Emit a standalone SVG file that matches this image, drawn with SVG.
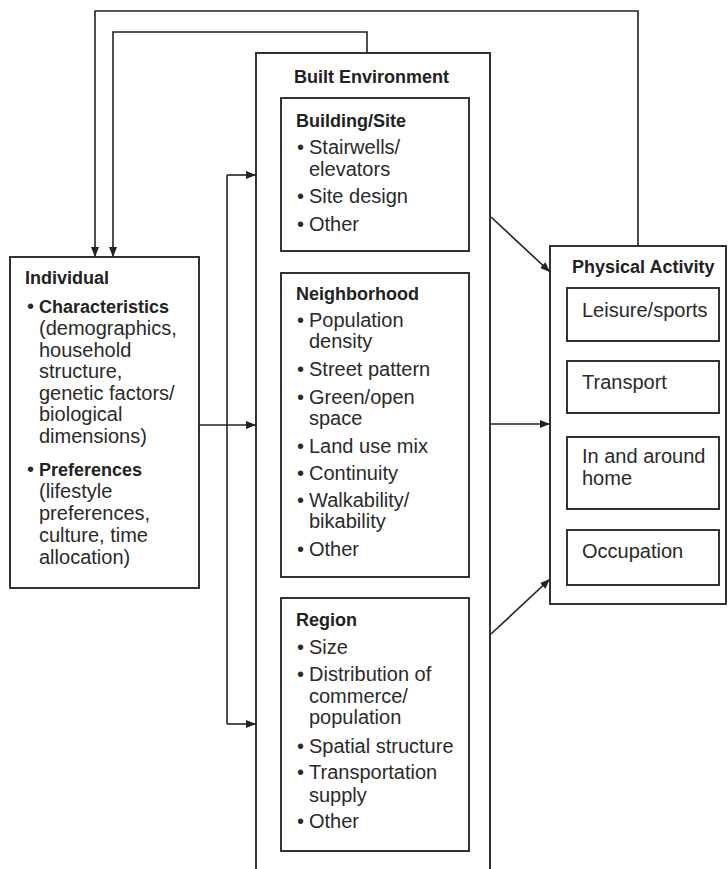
<svg xmlns="http://www.w3.org/2000/svg" width="728" height="869" viewBox="0 0 728 869">
<defs>
<style>
.box{fill:#fff;stroke:#333;stroke-width:2}
.conn{fill:none;stroke:#222;stroke-width:1.6}
.t{font-family:"Liberation Sans",Arial,sans-serif;font-size:20px;fill:#2a2a2a}
.b{font-weight:bold;font-size:18px;fill:#222}
</style>
<marker id="ah" markerUnits="userSpaceOnUse" markerWidth="10" markerHeight="8" refX="10" refY="4" orient="auto">
<path d="M0,0 L10,4 L0,8 z" fill="#222"/>
</marker>
</defs>
<rect width="728" height="869" fill="#fff"/>

<g id="built-environment">
<path class="box" d="M256,869 V53 H490 V869"/>
<text class="t b" x="294" y="83">Built Environment</text>
</g>

<g id="building-site">
<rect class="box" x="281" y="98" width="188" height="153"/>
<text class="t b" x="296" y="127">Building/Site</text>
<text class="t" x="297" y="154">•</text><text class="t" x="309" y="154">Stairwells/</text>
<text class="t" x="309" y="176">elevators</text>
<text class="t" x="297" y="203">•</text><text class="t" x="309" y="203">Site design</text>
<text class="t" x="297" y="231">•</text><text class="t" x="309" y="231">Other</text>
</g>

<g id="neighborhood">
<rect class="box" x="281" y="273" width="188" height="304"/>
<text class="t b" x="296" y="300">Neighborhood</text>
<text class="t" x="297" y="327">•</text><text class="t" x="309" y="327">Population</text>
<text class="t" x="309" y="348">density</text>
<text class="t" x="297" y="376">•</text><text class="t" x="309" y="376">Street pattern</text>
<text class="t" x="297" y="404">•</text><text class="t" x="309" y="404">Green/open</text>
<text class="t" x="309" y="425">space</text>
<text class="t" x="297" y="453">•</text><text class="t" x="309" y="453">Land use mix</text>
<text class="t" x="297" y="480">•</text><text class="t" x="309" y="480">Continuity</text>
<text class="t" x="297" y="507">•</text><text class="t" x="309" y="507">Walkability/</text>
<text class="t" x="309" y="528">bikability</text>
<text class="t" x="297" y="556">•</text><text class="t" x="309" y="556">Other</text>
</g>

<g id="region">
<rect class="box" x="281" y="598" width="188" height="253"/>
<text class="t b" x="296" y="626">Region</text>
<text class="t" x="297" y="654">•</text><text class="t" x="309" y="654">Size</text>
<text class="t" x="297" y="681">•</text><text class="t" x="309" y="681">Distribution of</text>
<text class="t" x="309" y="703">commerce/</text>
<text class="t" x="309" y="724">population</text>
<text class="t" x="297" y="753">•</text><text class="t" x="309" y="753">Spatial structure</text>
<text class="t" x="297" y="779">•</text><text class="t" x="309" y="779">Transportation</text>
<text class="t" x="309" y="802">supply</text>
<text class="t" x="297" y="828">•</text><text class="t" x="309" y="828">Other</text>
</g>

<g id="individual">
<rect class="box" x="10" y="257" width="189" height="331"/>
<text class="t b" x="25" y="284">Individual</text>
<text class="t" x="27" y="313">•</text><text class="t b" x="39" y="313">Characteristics</text>
<text class="t" x="39" y="335">(demographics,</text>
<text class="t" x="39" y="357">household</text>
<text class="t" x="39" y="378">structure,</text>
<text class="t" x="39" y="400">genetic factors/</text>
<text class="t" x="39" y="421">biological</text>
<text class="t" x="39" y="443">dimensions)</text>
<text class="t" x="27" y="476">•</text><text class="t b" x="39" y="476">Preferences</text>
<text class="t" x="39" y="498">(lifestyle</text>
<text class="t" x="39" y="520">preferences,</text>
<text class="t" x="39" y="542">culture, time</text>
<text class="t" x="39" y="564">allocation)</text>
</g>

<g id="physical-activity">
<rect class="box" x="550" y="246" width="176" height="358"/>
<text class="t b" x="572" y="273">Physical Activity</text>
<rect class="box" x="567" y="288" width="152" height="53"/>
<text class="t" x="582" y="317">Leisure/sports</text>
<rect class="box" x="567" y="361" width="152" height="52"/>
<text class="t" x="582" y="389">Transport</text>
<rect class="box" x="567" y="437" width="152" height="72"/>
<text class="t" x="582" y="463">In and around</text>
<text class="t" x="582" y="485">home</text>
<rect class="box" x="567" y="530" width="152" height="55"/>
<text class="t" x="582" y="558">Occupation</text>
</g>

<g id="connectors">
<path class="conn" d="M638,246 V11 H95 V257" marker-end="url(#ah)"/>
<path class="conn" d="M367,53 V32 H113 V257" marker-end="url(#ah)"/>
<path class="conn" d="M199,425 H256" marker-end="url(#ah)"/>
<path class="conn" d="M227,175 V724"/>
<path class="conn" d="M227,175 H256" marker-end="url(#ah)"/>
<path class="conn" d="M227,724 H256" marker-end="url(#ah)"/>
<path class="conn" d="M491,424 H550" marker-end="url(#ah)"/>
<path class="conn" d="M491,217 L550,272" marker-end="url(#ah)"/>
<path class="conn" d="M491,634 L550,579" marker-end="url(#ah)"/>
</g>
</svg>
